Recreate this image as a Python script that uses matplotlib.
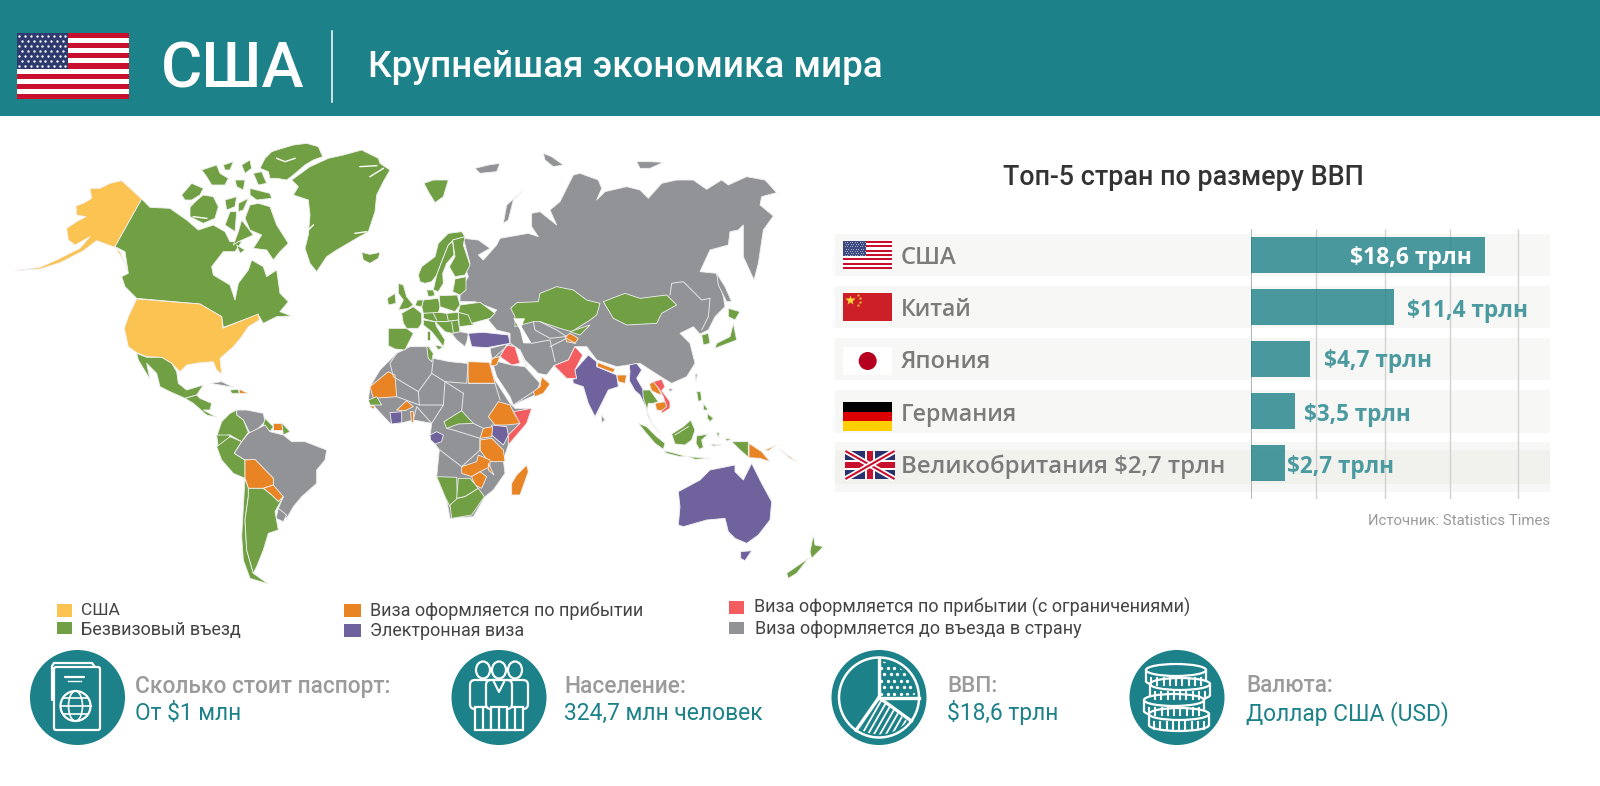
import numpy as np
import matplotlib
matplotlib.use("Agg")
import matplotlib.pyplot as plt
from matplotlib.patches import Polygon, Rectangle, Circle, Ellipse, FancyBboxPatch, Wedge
import matplotlib.patheffects as pe

# ------------------ data ------------------
countries = ["США", "Китай", "Япония", "Германия", "Великобритания $2,7 трлн"]
gdp = [18.6, 11.4, 4.7, 3.5, 2.7]
value_labels = ["$18,6 трлн", "$11,4 трлн", "$4,7 трлн", "$3,5 трлн", "$2,7 трлн"]
grid_positions = [5.13, 10.63, 15.81, 21.19]
legend_labels = ["США", "Безвизовый въезд", "Виза оформляется по прибытии", "Электронная виза",
                 "Виза оформляется по прибытии (с ограничениями)", "Виза оформляется до въезда в страну"]
facts_head = ["Сколько стоит паспорт:", "Население:", "ВВП:", "Валюта:"]
facts_value = ["От $1 млн", "324,7 млн человек", "$18,6 трлн", "Доллар США (USD)"]

TEAL = "#1c8188"; BAR = "#4b9aa0"
Y = "#fbc351"; G = "#70a043"; O = "#e88424"; P = "#6f629d"; R = "#f35d60"; S = "#929397"

# map outlines (reference pixels = 400 + x/3, 130 + y/3); helpers shift outlines read in other crops
def A(*p):    return [(x - 1200, y - 30) for x, y in p]
def ARC(*p):  return [(x - 690, y + 15) for x, y in p]
def EU(*p):   return [(x - 60, y + 285) for x, y in p]
def SEA(*p):  return [(x + 660, y + 690) for x, y in p]

americas = [
 (Y, A((425,237),(365,182),(330,190),(300,205),(270,205),(275,235),(250,250),(228,258),(230,285),(258,290),(230,305),(200,325),(205,360),(225,375),(270,350),(240,385),(170,420),(120,442),(45,452),(120,447),(180,428),(250,392),(290,362),(345,382),(360,395),(375,430),(388,462),(375,430),(345,380))),
 (G, A((425,237),(450,262),(510,265),(560,300),(595,330),(640,315),(675,335),(690,365),(725,365),(705,395),(670,395),(635,440),(640,465),(690,495),(705,540),(715,490),(745,450),(755,420),(790,440),(800,470),(830,450),(840,520),(865,545),(840,575),(875,588),(830,590),(790,610),(775,585),(730,600),(670,622),(665,590),(600,552),(410,535),(395,520),(375,500),(365,470),(385,460),(375,395),(345,380))),
 (G, ARC((35,180),(65,145),(100,160),(90,180),(65,195),(45,195))),
 (G, ARC((60,210),(100,180),(130,185),(145,215),(135,250),(100,265),(60,245))),
 (G, ARC((95,105),(140,90),(150,115),(175,130),(165,150),(125,150),(110,125))),
 (G, ARC((160,90),(190,80),(180,105),(165,105))),
 (G, ARC((215,90),(240,75),(245,100),(225,115))),
 (G, ARC((195,135),(225,135),(220,165),(200,155))),
 (G, ARC((240,160),(300,175),(305,190),(260,195),(240,180))),
 (G, ARC((165,195),(200,185),(195,215),(170,225))),
 (G, ARC((205,205),(235,190),(220,225),(205,230))),
 (G, ARC((180,230),(200,230),(195,290),(165,270))),
 (G, ARC((250,115),(275,110),(290,145),(265,150))),
 (G, ARC((320,45),(370,30),(410,25),(445,35),(458,65),(430,75),(405,90),(370,120),(350,135),(320,130),(300,130),(295,110),(270,100),(285,70),(305,50))),
 (G, ARC((240,210),(265,205),(300,215),(320,270),(355,325),(330,350),(310,375),(290,345),(250,340),(275,300),(240,285),(225,250))),
 (G, ARC((215,255),(250,300),(205,320),(190,330),(205,290))),
 (G, ARC((200,330),(225,345),(210,355))),
 (G, ARC((365,135),(420,95),(475,70),(520,60),(575,45),(625,70),(630,85),(660,105),(640,140),(620,180),(615,230),(595,290),(560,310),(500,345),(470,365),(440,410),(420,385),(405,340),(415,300),(420,240),(415,195),(370,180),(385,155))),
 (G, ARC((575,352),(600,358),(630,352),(625,370),(600,385),(580,375))),
 (Y, A((410,537),(600,552),(665,590),(668,625),(730,600),(775,582),(778,600),(745,620),(725,650),(700,680),(660,715),(665,762),(650,750),(640,725),(600,728),(560,735),(540,755),(515,730),(485,712),(440,710),(410,698),(385,680),(373,625),(385,590))),
 (G, A((410,700),(440,712),(485,712),(515,730),(530,755),(535,790),(560,810),(610,795),(590,825),(555,835),(510,815),(480,800),(470,760),(440,730),(450,778),(415,720))),
 (G, A((555,835),(590,825),(600,835),(635,850),(630,870),(610,870),(650,892),(620,885),(580,850))),
 (S, A((630,790),(665,785),(700,802),(660,795))),
 (G, A((690,810),(715,808),(718,820),(695,820))),
 (O, A((718,808),(745,820),(718,820))),
 (S, A((710,870),(740,870),(790,880),(795,905),(775,925),(750,940),(730,900),(710,885))),
 (G, A((795,895),(820,920),(810,935),(790,915))),
 (O, A((820,908),(845,908),(845,930),(820,930))),
 (G, A((845,908),(870,935),(850,945))),
 (G, A((665,905),(690,880),(710,870),(710,885),(730,900),(745,937),(725,965),(690,945),(650,950))),
 (G, A((650,945),(690,945),(680,975),(655,985))),
 (G, A((650,980),(690,950),(725,965),(703,1000),(735,1020),(735,1075),(700,1060),(665,1020))),
 (S, A((745,940),(775,925),(795,915),(810,935),(850,945),(875,965),(915,965),(980,990),(975,1020),(950,1050),(950,1090),(905,1130),(880,1160),(860,1195),(835,1165),(850,1130),(820,1110),(820,1075),(765,1020),(735,1020),(703,1000),(725,965))),
 (S, A((835,1165),(860,1185),(850,1205),(828,1195))),
 (O, A((735,1020),(765,1018),(820,1075),(820,1095),(790,1105),(745,1105),(735,1075))),
 (O, A((790,1105),(820,1095),(850,1130),(835,1145),(815,1125))),
 (G, A((735,1075),(745,1105),(745,1130),(735,1200),(740,1290),(760,1360),(805,1392),(750,1375),(730,1320),(725,1250))),
 (G, A((745,1105),(790,1105),(815,1125),(835,1145),(850,1130),(825,1175),(835,1230),(805,1240),(790,1290),(770,1340),(760,1360),(740,1290),(735,1200),(745,1130))),
]

afro_eurasia = [
 # Africa
 (S, [(-10,670),(30,650),(90,650),(100,685),(150,695),(200,700),(270,700),(285,750),(330,820),(345,835),(395,835),(380,880),(325,945),(310,990),(315,1030),(280,1080),(255,1100),(220,1160),(150,1165),(140,1110),(110,1040),(118,960),(90,920),(95,880),(40,870),(0,880),(-30,880),(-95,810),(-90,770),(-60,720)]),
 (O, [(-90,770),(-35,725),(-15,735),(-10,800),(-80,805)]),
 (G, [(-95,810),(-70,800),(-55,825),(-90,825)]),
 (O, [(-92,828),(-75,828),(-80,838)]),
 (O, [(-10,840),(20,812),(40,830),(15,842)]),
 (P, [(-30,848),(5,845),(5,878),(-25,882)]),
 (O, [(30,842),(40,842),(40,875),(32,875)]),
 (P, [(90,915),(110,905),(130,915),(125,935),(105,942),(92,930)]),
 (G, [(132,875),(185,842),(220,880),(175,882),(140,895)]),
 (O, [(203,695),(268,697),(285,760),(205,760)]),
 (O, [(265,860),(295,815),(330,825),(345,855),(365,880),(320,885),(285,885)]),
 (R, [(340,845),(395,835),(380,880),(325,945),(325,915),(360,880)]),
 (P, [(275,885),(320,890),(325,915),(310,945),(275,915)]),
 (O, [(250,895),(278,890),(275,920),(240,925)]),
 (O, [(240,930),(275,925),(310,960),(315,995),(265,995),(240,960)]),
 (O, [(185,1010),(230,995),(235,975),(270,990),(270,1010),(240,1025),(215,1040),(185,1030)]),
 (O, [(265,1000),(282,1035),(265,1020)]),
 (O, [(215,1040),(240,1025),(260,1040),(245,1075),(225,1065)]),
 (G, [(110,1040),(170,1042),(172,1110),(150,1130),(135,1100)]),
 (G, [(175,1045),(210,1045),(235,1075),(195,1100),(170,1105)]),
 (G, [(150,1125),(172,1105),(195,1100),(235,1075),(253,1100),(215,1155),(155,1165)]),
 (G, [(85,650),(100,670),(95,695),(85,685),(80,650)]),
 (O, [(380,1005),(385,1025),(360,1095),(335,1095),(335,1060),(350,1035)]),
 # Eurasia base
 (S, [(190,325),(235,330),(270,355),(235,375),(250,390),(290,345),(300,325),(385,310),(415,320),(395,290),(395,250),(420,245),(470,285),(450,240),(480,215),(520,135),(540,130),(595,150),(605,175),(590,210),(615,185),(680,170),(720,180),(745,205),(785,160),(830,150),(880,150),(920,178),(965,150),(985,165),(1040,140),(1095,150),(1130,188),(1085,200),(1080,225),(1120,258),(1090,300),(1075,400),(1062,450),(1030,380),(1030,285),(1015,300),(990,305),(985,345),(930,360),(900,425),(950,430),(970,500),(975,530),(945,560),(925,600),(900,612),(880,590),(840,610),(870,640),(885,700),(860,740),(815,760),(790,745),(720,700),(650,710),(590,690),(560,650),(525,650),(505,690),(462,707),(440,735),(415,730),(375,690),(360,660),(330,640),(330,610),(290,600),(265,570),(290,540),(225,515),(180,515),(180,480),(205,440),(195,410),(210,400)]),
 (S, [(275,690),(335,705),(375,710),(420,760),(405,795),(340,825),(330,800),(290,740)]),
 (S, [(270,655),(330,640),(345,650),(320,645),(300,680),(275,685)]),
 (S, EU((215,325),(240,320),(265,325),(262,345),(255,365),(230,345))),
 (S, [(310,280),(320,225),(365,185),(340,210),(325,270)]),
 (S, [(430,70),(455,80),(490,105),(460,110),(435,90)]),
 (S, [(710,95),(750,95),(790,97),(750,115),(720,115)]),
 (S, [(950,430),(975,470),(995,515),(980,515),(955,465)]),
 (S, [(225,115),(265,105),(300,100),(290,125),(240,130)]),
 # Europe
 (G, EU((115,150),(125,125),(165,95),(175,55),(205,25),(245,20),(255,35),(220,45),(205,60),(185,110),(170,150),(155,170),(135,175),(120,170))),
 (G, EU((170,150),(185,110),(205,60),(218,50),(222,90),(200,115),(188,145),(190,175),(175,200),(160,195))),
 (G, EU((218,45),(255,35),(250,60),(270,120),(255,150),(225,155),(208,125),(225,95))),
 (G, EU((225,162),(258,155),(258,195),(240,210),(218,200),(222,180))),
 (G, EU((55,175),(70,180),(80,215),(100,240),(85,250),(55,255),(70,225),(55,205))),
 (G, EU((22,220),(45,205),(48,235),(25,240))),
 (G, EU((140,195),(160,195),(165,212),(145,215))),
 (G, EU((65,265),(100,245),(125,265),(125,295),(115,310),(80,310),(70,295))),
 (G, EU((25,310),(80,310),(100,325),(75,375),(45,372),(25,362))),
 (G, EU((130,225),(175,220),(180,245),(175,265),(130,265),(125,245))),
 (G, EU((178,212),(232,210),(240,240),(225,260),(180,245))),
 (G, EU((112,225),(130,225),(125,245),(105,242))),
 (G, EU((130,265),(175,262),(200,265),(235,262),(235,285),(195,290),(165,290),(145,285),(130,280))),
 (G, EU((130,285),(165,290),(170,305),(195,345),(190,365),(175,345),(155,320),(130,300))),
 (G, EU((142,318),(150,318),(150,345),(142,345))),
 (G, EU((165,360),(190,365),(175,375))),
 (G, EU((165,290),(195,290),(235,285),(240,320),(215,325),(195,320))),
 (G, EU((235,262),(270,270),(280,300),(238,305))),
 (G, EU((240,240),(300,232),(345,265),(330,280),(275,295),(265,270),(235,262))),
 (G, [(72,160),(100,150),(145,150),(130,200),(105,218),(85,185)]),
 # Asia
 (G, [(332,535),(350,518),(415,515),(420,490),(470,470),(520,480),(560,510),(600,520),(590,555),(570,570),(515,605),(480,595),(420,575),(400,575),(345,590),(345,560)]),
 (G, [(610,515),(675,490),(720,505),(800,495),(830,525),(785,550),(770,580),(680,585),(640,565)]),
 (G, [(510,605),(570,585),(540,615)]),
 (O, [(495,620),(510,610),(535,625),(525,640),(500,635)]),
 (P, EU((265,325),(310,322),(385,330),(390,355),(320,368),(275,365))),
 (R, [(300,680),(320,645),(345,650),(360,700),(335,705)]),
 (O, [(275,685),(300,680),(290,705),(272,708)]),
 (O, [(425,740),(450,762),(430,790),(405,800),(400,785),(420,770)]),
 (R, [(525,650),(548,675),(525,720),(530,745),(500,745),(462,707),(505,690)]),
 (P, [(565,675),(590,695),(590,710),(650,735),(655,770),(625,780),(600,830),(585,860),(565,820),(550,770),(520,760),(518,748),(530,745),(525,720)]),
 (O, [(592,697),(645,717),(640,728),(592,710)]),
 (O, [(650,735),(680,735),(675,760),(655,755)]),
 (P, SEA((28,15),(50,10),(65,30),(50,55),(70,90),(80,150),(72,130),(60,105),(45,92),(28,62),(30,35))),
 (G, SEA((68,90),(90,90),(115,125),(100,130),(85,130),(82,150),(70,115))),
 (G, SEA((80,150),(95,190),(118,218),(100,198),(85,172))),
 (O, SEA((88,72),(105,62),(118,90),(125,105),(110,100),(95,92))),
 (R, SEA((100,65),(125,58),(135,80),(125,92),(150,125),(150,145),(125,160),(125,152),(138,135),(130,110),(118,88))),
 (O, SEA((105,130),(135,125),(140,140),(125,152),(110,150))),
 (S, SEA((145,85),(160,88),(150,95))),
 (S, SEA((225,42),(232,42),(228,65))),
 (G, SEA((55,190),(80,200),(110,230),(135,250),(130,268),(105,250),(75,215))),
 (G, SEA((132,272),(165,280),(200,290),(180,290),(140,280))),
 (G, SEA((205,290),(270,295),(225,298))),
 (G, SEA((155,222),(190,200),(212,180),(225,210),(215,240),(195,255),(165,252))),
 (G, SEA((230,228),(265,222),(245,240),(250,262),(238,268),(228,250))),
 (G, SEA((230,95),(242,95),(245,120),(235,125))),
 (G, SEA((250,130),(265,150),(250,150))),
 (G, SEA((262,160),(280,175),(270,185),(262,175))),
 (G, SEA((290,218),(298,218),(295,235))),
 (G, SEA((270,252),(305,255),(280,258))),
 (G, SEA((315,235),(335,238),(322,243))),
 (G, SEA((335,245),(385,245),(385,292),(355,265))),
 (O, SEA((387,250),(425,275),(450,305),(420,295),(387,293))),
 (O, SEA((435,270),(470,255),(445,272))),
 (O, SEA((480,268),(530,305),(510,295))),
 (P, [(835,1085),(900,1050),(930,1020),(1005,1005),(1005,1025),(1030,1050),(1055,1000),(1085,1060),(1115,1115),(1110,1170),(1075,1215),(1040,1240),(1005,1225),(985,1205),(975,1165),(920,1170),(850,1190),(835,1185),(840,1130)]),
 (P, [(1022,1265),(1055,1262),(1035,1292),(1022,1285)]),
 (G, [(1240,1215),(1245,1245),(1270,1250),(1235,1285),(1230,1265)]),
 (G, [(1225,1285),(1190,1330),(1165,1345),(1160,1330)]),
 (G, [(985,535),(1020,545),(1005,570),(985,560)]),
 (G, [(1000,580),(1010,630),(945,655),(950,640),(990,620)]),
 (G, [(905,615),(925,610),(930,640),(910,645)]),
 (S, [(605,855),(615,870),(605,878)]),
]

borders = [
 [(810,495),(815,460),(850,455),(905,510),(930,505),(925,560),(905,600)],
 [(400,575),(405,600),(450,625),(495,620)],
 [(420,575),(470,600),(500,620)],
 [(395,640),(450,630),(465,695)],
 [(450,650),(500,625),(525,640)],
 [(360,660),(380,710)],
 [(275,690),(330,640)],
 [(340,825),(400,785)],
 [(100,685),(95,730),(135,755),(190,790)],
 [(135,755),(200,760),(205,695)],
 [(-10,670),(-30,700),(-20,740),(55,785),(95,730)],
 [(55,785),(58,825),(130,825),(135,755)],
 [(-10,800),(58,825)],
 [(190,790),(185,842)],
 [(205,760),(285,760),(300,810)],
 [(220,880),(250,895)],
 [(140,895),(160,900),(240,925),(240,960),(185,1010),(120,960)],
 [(40,870),(50,830),(95,880),(130,825)],
 EU((160,265),(170,285)), EU((200,265),(205,288)), EU((215,290),(220,322)),
 SEA((165,225),(205,200)),
]
channels = [
 ARC((320,70),(345,80),(375,70)), ARC((600,125),(640,100)), ARC((570,95),(620,92)),
 ARC((555,295),(590,290)), ARC((410,290),(430,270)), ARC((60,215),(100,175)), ARC((70,245),(110,250)),
]

# ------------------ figure ------------------
fig = plt.figure(figsize=(16, 7.86), dpi=100, facecolor="white")
def pixel_axes(z):
    a = fig.add_axes([0, 0, 1, 1], zorder=z)
    a.set_xlim(0, 1600); a.set_ylim(786, 0); a.axis("off"); a.patch.set_alpha(0)
    return a
bg = pixel_axes(0)
top = pixel_axes(2)

def to_px(pts):
    return [(400 + x/3, 130 + y/3) for x, y in pts]

for colr, pts in americas + afro_eurasia:
    bg.add_patch(Polygon(to_px(pts), closed=True, fc=colr, ec="#f0f0f0", lw=0.6, joinstyle="round"))
for line in borders:
    xy = np.array(to_px(line))
    bg.plot(xy[:, 0], xy[:, 1], color="#e6e6e6", lw=0.7, solid_joinstyle="round")
for line in channels:
    xy = np.array(to_px(line))
    bg.plot(xy[:, 0], xy[:, 1], color="white", lw=1.0, solid_joinstyle="round")
bg.add_patch(Polygon(to_px([(340,565),(375,565),(365,590),(395,640),(370,640),(360,600)]), fc="white", ec="none"))

renderer = fig.canvas.get_renderer()
def txt(x0, x1, base, s, color, family="Roboto", weight="normal", ax=None, stroke=0):
    ax = ax or top
    t = ax.text(x0, base, s, color=color, family=family, weight=weight, fontsize=20, ha="left", va="baseline")
    w = t.get_window_extent(renderer).width
    t.set_fontsize(20 * (x1 - x0) / w)
    if stroke:
        t.set_path_effects([pe.withStroke(linewidth=stroke, foreground=color)])
    return t

def us_flag(ax, x0, x1, y0, y1, stripes=("#c8102e", "white"), canton="#2e3a6e", nx=9, ny=7, ms=0.9):
    h = (y1 - y0) / 13
    ax.add_patch(Rectangle((x0, y0), x1-x0, y1-y0, fc="white", ec="none"))
    for i in range(0, 13, 2):
        ax.add_patch(Rectangle((x0, y0 + i*h), x1-x0, h, fc=stripes[0], ec="none"))
    cw = (x1 - x0) * 0.46; chh = 7*h
    ax.add_patch(Rectangle((x0, y0), cw, chh, fc=canton, ec="none"))
    xs, ys = [], []
    for r in range(ny):
        for c in range(nx - (r % 2)):
            xs.append(x0 + cw*(c + 0.5 + 0.5*(r % 2))/nx)
            ys.append(y0 + chh*(r + 0.5)/ny)
    ax.plot(xs, ys, ls="", marker="o", ms=ms, mfc="white", mec="none")

# --- header ---
bg.add_patch(Rectangle((0, 0), 1600, 116, fc=TEAL, ec="none"))
us_flag(top, 16.5, 129, 33, 99, ms=1.7)
top.plot([332, 332], [31, 102], color="white", lw=1.1)
txt(160.5, 304, 87, "США", "white", weight="medium")
txt(367.5, 882.5, 77, "Крупнейшая экономика мира", "white", weight="medium")

# --- bar chart ---
txt(1003, 1363.3, 185, "Топ-5 стран по размеру ВВП", "#333333", weight="medium")
row_tops = [234, 286, 338, 390, 442]
for rt, h in zip(row_tops, [42, 42, 42, 43, 50]):
    bg.add_patch(Rectangle((835, rt), 715, h, fc="#f7f7f5", ec="none"))
bg.add_patch(Rectangle((835, 450), 715, 34, fc="#f1f2ee", ec="none"))

BAR_X0 = 1251; PX_PER_UNIT = 234 / 18.6
bar_ax = fig.add_axes([BAR_X0/1600, 1 - 499/786, 300/1600, 270/786], zorder=1)
bar_ax.patch.set_alpha(0)
bar_ax.set_xlim(0, 300/PX_PER_UNIT)
bar_ax.set_ylim((499-255)/52, (229-255)/52)
bar_ax.axis("off")
bar_ax.vlines(grid_positions, *bar_ax.get_ylim(), color="#d2d2d2", lw=1)
bar_ax.vlines([0], *bar_ax.get_ylim(), color="#a5a5a5", lw=1.2)
bar_ax.barh(range(len(gdp)), gdp, height=36/52, color=TEAL, alpha=0.8, zorder=3)

label_x0 = 900.6
label_x1 = [956.3, 971.7, 990.6, 1017, 1224.5]
label_base = [264, 316, 368, 421, 473]
val_x0 = [1349.9, 1407, 1323.5, 1304, 1286.7]
val_x1 = [1471.7, 1527.5, 1431, 1411, 1393.6]
val_base = [264, 317, 367, 421, 473]
for i, c in enumerate(countries):
    txt(label_x0, label_x1[i], label_base[i], c, "#7b7b7b", family="Open Sans", weight="semibold")
    txt(val_x0[i], val_x1[i], val_base[i], value_labels[i], "white" if i == 0 else BAR, family="Open Sans", weight="bold")

us_flag(top, 843.4, 892, 241, 269, ms=0.6, canton="#3c4a80")
top.add_patch(Rectangle((843.4, 293), 48.6, 28, fc="#cd1f27", ec="none"))
top.plot([850], [300], ls="", marker="*", ms=7, mfc="#ffd83a", mec="none")
top.plot([858, 860, 860, 858], [295, 298, 302, 305], ls="", marker="*", ms=2.5, mfc="#ffd83a", mec="none")
top.add_patch(Rectangle((843.4, 347), 48.6, 28, fc="white", ec="none"))
top.add_patch(Circle((867.7, 361), 9, fc="#b5001f", ec="none"))
for j, colr in enumerate(["black", "#dd0000", "#ffce00"]):
    top.add_patch(Rectangle((843.4, 402 + j*29/3), 48.6, 29/3, fc=colr, ec="none"))
ux0, ux1, uy0, uy1 = 845.4, 894.6, 451, 479
top.add_patch(Rectangle((ux0, uy0), ux1-ux0, uy1-uy0, fc="#27326e", ec="none"))
for a, b in [([ux0, ux1], [uy0, uy1]), ([ux0, ux1], [uy1, uy0])]:
    top.plot(a, b, color="white", lw=4, solid_capstyle="butt")
    top.plot(a, b, color="#c8102e", lw=1.5, solid_capstyle="butt")
top.add_patch(Rectangle(((ux0+ux1)/2-5, uy0), 10, uy1-uy0, fc="white", ec="none"))
top.add_patch(Rectangle((ux0, (uy0+uy1)/2-5), ux1-ux0, 10, fc="white", ec="none"))
top.add_patch(Rectangle(((ux0+ux1)/2-3, uy0), 6, uy1-uy0, fc="#c8102e", ec="none"))
top.add_patch(Rectangle((ux0, (uy0+uy1)/2-3), ux1-ux0, 6, fc="#c8102e", ec="none"))

txt(1368, 1549.9, 525, "Источник: Statistics Times", "#9a9a9a")

# --- legend ---
leg_colors = [Y, G, O, P, R, S]
leg_sq = [(57,604,15,13),(57,622,15,12),(344,604,17,13),(344,624,17,13),(729,601,15,13),(729,622,15,12)]
leg_txt = [(81,120,615),(81,241,635),(370,643,616),(370,524.5,636),(754,1189,613),(755,1082,634)]
for colr, sq, (a, b, base), lab in zip(leg_colors, leg_sq, leg_txt, legend_labels):
    top.add_patch(Rectangle(sq[:2], sq[2], sq[3], fc=colr, ec="none"))
    txt(a, b, base, lab, "#444444")

# --- facts ---
centers = [77.5, 499, 879, 1177]
for c in centers:
    top.add_patch(Circle((c, 697.5), 47.5, fc=TEAL, ec="none"))
head_pos = [(135,390,693),(564,686,693),(947,997,692),(1246,1333,692)]
val_pos = [(135,241,720),(564,763,720),(947,1058,720),(1246,1449,720)]
for s, p in zip(facts_head, head_pos):
    txt(p[0], p[1], p[2], s, "#9b9b9b", weight="medium")
for s, p in zip(facts_value, val_pos):
    txt(p[0], p[1], p[2], s, TEAL)

W = dict(color="white", lw=1.6, solid_capstyle="round")
# passport
top.add_patch(FancyBboxPatch((54, 667), 46, 63, boxstyle="round,pad=0,rounding_size=2", fc="none", ec="white", lw=1.6))
top.plot([52, 52, 54, 92, 95], [700, 666, 663, 663, 667], **W)
top.plot([65, 84], [677, 677], **W)
top.plot([68, 81], [681, 681], color="white", lw=1)
top.add_patch(Circle((75.5, 706), 15, fc="none", ec="white", lw=1.6))
top.add_patch(Ellipse((75.5, 706), 14, 30, fc="none", ec="white", lw=1.2))
top.plot([60.5, 90.5], [706, 706], color="white", lw=1.2)
top.plot([63, 88], [698, 698], color="white", lw=1.2)
top.plot([63, 88], [714, 714], color="white", lw=1.2)
# people
for cx, front in [(483, 0), (515, 0), (499, 1)]:
    top.add_patch(Ellipse((cx, 670), 14, 17, fc=TEAL, ec="white", lw=1.6, zorder=3+front))
    top.add_patch(FancyBboxPatch((cx-13, 680), 26, 29, boxstyle="round,pad=0,rounding_size=5", fc=TEAL, ec="white", lw=1.6, zorder=3+front))
    top.add_patch(Rectangle((cx-8, 707), 16, 23, fc=TEAL, ec="white", lw=1.6, zorder=3+front))
    top.plot([cx, cx], [707, 730], color="white", lw=1.6, zorder=4+front)
top.plot([493, 499, 505], [680, 692, 680], color="white", lw=1.5, zorder=6)
# pie
pc = (879, 697.5)
top.add_patch(Circle(pc, 40, fc="none", ec="white", lw=1.8))
for ang in [90, 0, -36, -125]:
    top.plot([pc[0], pc[0] + 40*np.cos(np.radians(ang))], [pc[1], pc[1] - 40*np.sin(np.radians(ang))], color="white", lw=2.4)
dots_clip = Wedge(pc, 36, -86, -4, transform=top.transData, fc="none", ec="none")
top.add_patch(dots_clip)
gx, gy = np.meshgrid(np.arange(0, 40, 6.5), np.arange(0, 40, 6.5))
gx = gx + (np.arange(gy.shape[0]) % 2)[:, None] * 3.25
dots, = top.plot(pc[0] + gx.ravel() + 2, pc[1] - gy.ravel() - 4, ls="", marker="o", ms=2.4, mfc="white", mec="none")
dots.set_clip_path(dots_clip)
hatch_clip = Wedge(pc, 37, 40, 121, transform=top.transData, fc="none", ec="none")
top.add_patch(hatch_clip)
for k in np.arange(-50, 50, 6.0):
    ln, = top.plot([pc[0] + k - 12, pc[0] + k + 12], [pc[1] + 42, pc[1]], color="white", lw=1.3)
    ln.set_clip_path(hatch_clip)
# coins
for cx, cy in [(1176, 672), (1180, 686), (1174, 702), (1179, 716)]:
    top.add_patch(Ellipse((cx, cy+9), 60, 12, fc=TEAL, ec="white", lw=1.6, zorder=3))
    top.add_patch(Rectangle((cx-30, cy-2), 60, 11, fc=TEAL, ec="none", zorder=3.05))
    top.plot([cx-30, cx-30], [cy-2, cy+9], color="white", lw=1.6, zorder=3.1)
    top.plot([cx+30, cx+30], [cy-2, cy+9], color="white", lw=1.6, zorder=3.1)
    top.add_patch(Ellipse((cx, cy-2), 60, 12, fc=TEAL, ec="white", lw=1.6, zorder=3.2))
    for k in np.linspace(-25, 25, 9):
        top.plot([cx+k, cx+k], [cy+6, cy+13], color="white", lw=1.5, zorder=3.3)
top.set_xlim(0, 1600); top.set_ylim(786, 0)
bg.set_xlim(0, 1600); bg.set_ylim(786, 0)
fig.savefig("out.png", dpi=100)
